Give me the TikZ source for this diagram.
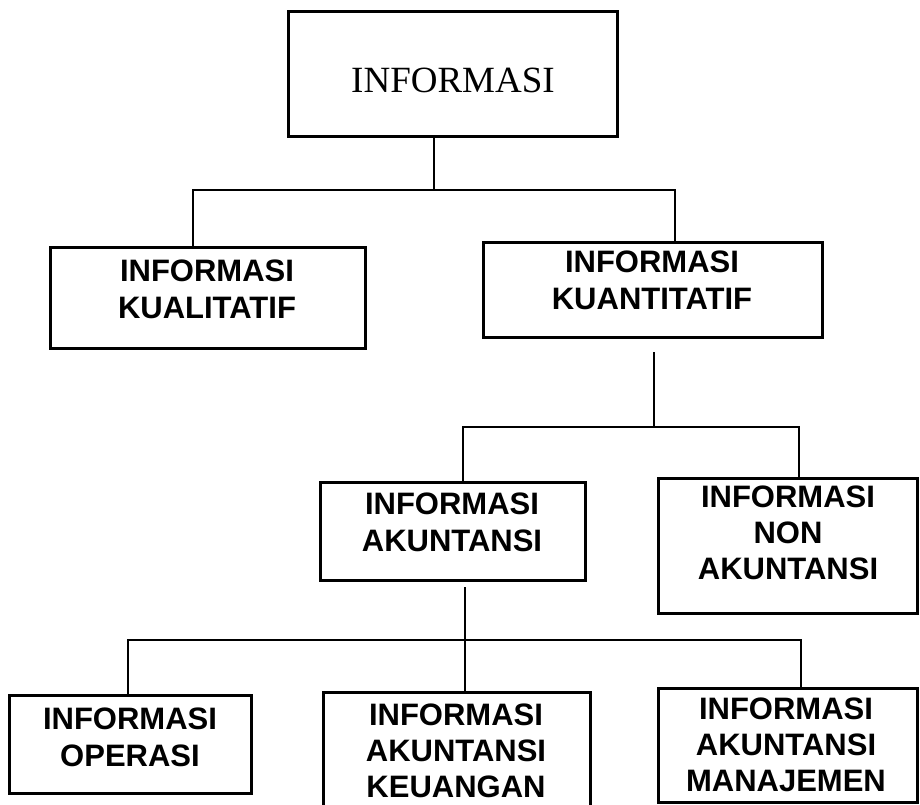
\documentclass[tikz,border=0pt]{standalone}
\usepackage{fontspec}
\setmainfont{Liberation Sans}
\newfontfamily\serifface{Liberation Serif}
\begin{document}
\begin{tikzpicture}[x=1pt,y=-1pt,
  box/.style={draw, line width=3pt, rectangle, inner sep=0pt},
  lbl/.style={font=\bfseries\fontsize{31}{37}\selectfont, align=center, inner sep=0pt},
  lblthree/.style={font=\bfseries\fontsize{31}{36}\selectfont, align=center, inner sep=0pt},
  conn/.style={line width=2.8pt}]
\useasboundingbox[fill=white] (0,0) rectangle (920,805);
% boxes
\node[box, minimum width=329pt, minimum height=125pt] (top)   at (452.5,74.5) {};
\node[box, minimum width=315pt, minimum height=101pt] (qual)  at (207.5,297.5) {};
\node[box, minimum width=339pt, minimum height=95pt]  (quant) at (652.5,289.5) {};
\node[box, minimum width=265pt, minimum height=98pt]  (akun)  at (452.5,531) {};
\node[box, minimum width=259pt, minimum height=135pt] (non)   at (787.5,545.5) {};
\node[box, minimum width=242pt, minimum height=98pt]  (oper)  at (130,744) {};
\node[box, minimum width=267pt, minimum height=124pt] (keu)   at (456.5,754) {};
\node[box, minimum width=259pt, minimum height=114pt] (man)   at (787.5,745) {};
% texts
\node[inner sep=0pt] (topT) at (453,80) {\serifface\fontsize{37}{40}\selectfont INFORMASI};
\node[lbl] (qualT)  at (207,289)   {INFORMASI\\KUALITATIF};
\node[lbl] (quantT) at (652,280.5) {INFORMASI\\KUANTITATIF};
\node[lbl] (akunT)  at (452,522.5) {INFORMASI\\AKUNTANSI};
\node[lblthree] (nonT) at (788,532.5) {INFORMASI\\NON\\AKUNTANSI};
\node[lbl] (operT)  at (130,737.5) {INFORMASI\\OPERASI};
\node[lblthree] (keuT) at (456,751) {INFORMASI\\AKUNTANSI\\KEUANGAN};
\node[lblthree] (manT) at (786,745) {INFORMASI\\AKUNTANSI\\MANAJEMEN};
% junction coordinates
\coordinate (j1)  at (434,190);
\coordinate (h1L) at (193,190);
\coordinate (h1R) at (675,190);
\coordinate (s2)  at (654,352);
\coordinate (j2)  at (654,427);
\coordinate (h2L) at (463,427);
\coordinate (h2R) at (799,427);
\coordinate (s3)  at (465,587);
\coordinate (h3L) at (128,640);
\coordinate (h3R) at (801,640);
% connectors
\draw[conn] (j1 |- top.south) -- (j1);
\draw[conn] (qual.north -| h1L) -- (h1L) -- (h1R) -- (quant.north -| h1R);
\draw[conn] (s2) -- (j2);
\draw[conn] (akun.north -| h2L) -- (h2L) -- (h2R) -- (non.north -| h2R);
\draw[conn] (s3) -- (keu.north -| s3);
\draw[conn] (oper.north -| h3L) -- (h3L) -- (h3R) -- (man.north -| h3R);
\end{tikzpicture}
\end{document}
